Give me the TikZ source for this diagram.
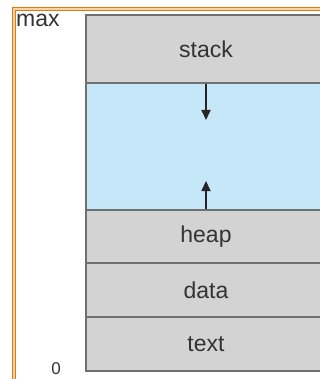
\documentclass[tikz,border=0pt]{standalone}
\usepackage{fontspec}
\setmainfont{Liberation Sans}
\usetikzlibrary{arrows.meta}
\definecolor{segfill}{HTML}{D3D3D3}
\definecolor{freefill}{HTML}{C6E7F8}
\definecolor{segline}{HTML}{707070}
\definecolor{labeltext}{HTML}{333333}
\definecolor{frameorange}{HTML}{E07810}
\definecolor{framepale}{HTML}{F6D2AE}
\tikzset{
  segment/.style={draw=segline, line width=1.3pt, fill=segfill, minimum width=240pt,
    inner sep=0pt, font=\fontsize{23}{23}\selectfont, text=labeltext},
  freespace/.style={segment, fill=freefill},
  growth/.style={draw=black!85, line width=1.7pt, -{Triangle[length=10pt,width=9pt]}},
  addr/.style={font=\fontsize{23}{23}\selectfont, text=labeltext, inner sep=0pt},
}
\begin{document}
\begin{tikzpicture}[x=1pt,y=-1pt]
\useasboundingbox (0,0) rectangle (320,379);
\begin{scope}
\clip (0,0) rectangle (320,379);
% outer frame: orange double rule running off the right and bottom edges
\draw[frameorange, line width=4pt] (14,400) -- (14,9) -- (340,9);
\draw[framepale, line width=1.2pt] (14,400) -- (14,9) -- (340,9);
% process memory layout
\node[segment, minimum height=68pt] (stack) at (206,49) {stack};
\node[freespace, minimum height=127pt] (free) at (206,146.5) {};
\node[segment, minimum height=53pt] (heap) at (206,236.5) {heap};
\node[segment, minimum height=54pt] (data) at (206,290) {data};
\node[segment, minimum height=54pt] (text) at (206,344) {text};
\draw[segline, line width=1.3pt] (stack.south west) -- (stack.south east);
\draw[segline, line width=1.3pt] (heap.north west) -- (heap.north east);
\end{scope}
% growth directions of stack and heap
\coordinate (stacktip) at (206,120);
\coordinate (heaptip) at (206,181);
\draw[growth] (stack.south) -- (stacktip);
\draw[growth] (heap.north) -- (heaptip);
% address labels
\node[addr, anchor=base west] (maxlbl) at (16,27) {max};
\node[addr, anchor=base, font=\fontsize{17}{17}\selectfont] (zerolbl) at (56,374) {0};
\end{tikzpicture}
\end{document}
